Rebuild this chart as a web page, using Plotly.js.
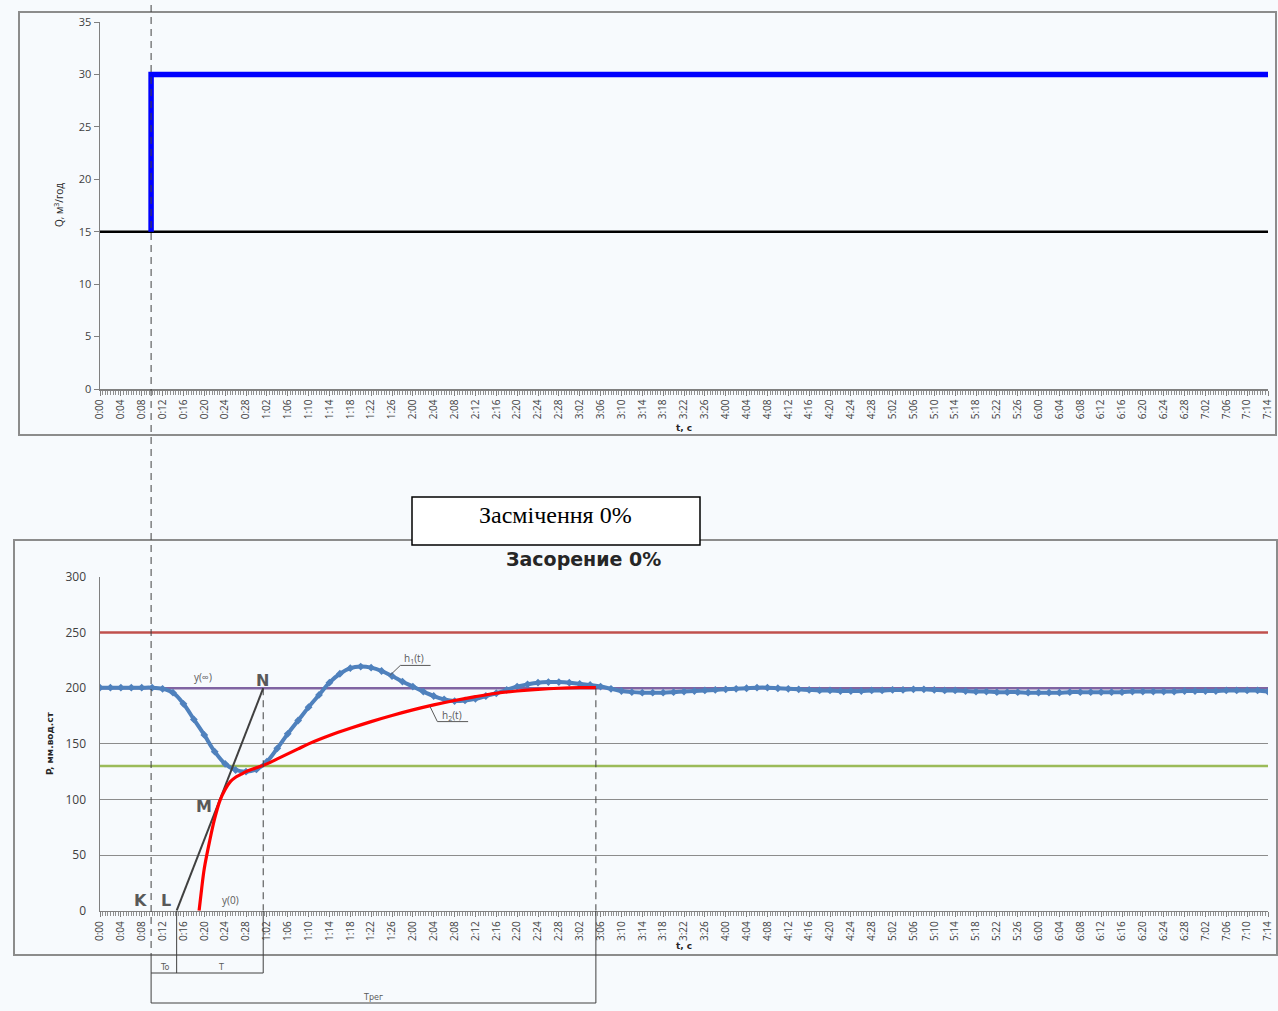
<!DOCTYPE html>
<html>
<head>
<meta charset="utf-8">
<script src="https://cdn.plot.ly/plotly-3.0.1.min.js"></script>
<style>
html,body{margin:0;padding:0;background:#f7fafd;}
#chart{width:1278px;height:1011px;}
</style>
</head>
<body>
<div id="chart"></div>
<script>
// ---- tick labels (time axis) ----
const tickLabels = ["0:00","0:04","0:08","0:12","0:16","0:20","0:24","0:28","1:02","1:06","1:10","1:14","1:18","1:22","1:26",
"2:00","2:04","2:08","2:12","2:16","2:20","2:24","2:28","3:02","3:06","3:10","3:14","3:18","3:22","3:26",
"4:00","4:04","4:08","4:12","4:16","4:20","4:24","4:28","5:02","5:06","5:10","5:14","5:18","5:22","5:26",
"6:00","6:04","6:08","6:12","6:16","6:20","6:24","6:28","7:02","7:06","7:10","7:14"];

// ---- top chart: flow Q ----
const qStepT = [9.8, 9.8, 224];
const qStepV = [15, 30, 30];
const qBaseT = [0, 224];
const qBaseV = [15, 15];

// ---- bottom chart: pressure P ----
const h1T = [0,2,4,6,8,10,12,14,16,18,20,22,24,26,28,30,32,34,36,38,40,42,44,46,48,50,52,54,56,58,60,62,64,66,68,70,72,74,76,78,80,82,84,86,88,90,92,94,96,98,100,102,104,106,108,110,112,114,116,118,120,122,124,126,128,130,132,134,136,138,140,142,144,146,148,150,152,154,156,158,160,162,164,166,168,170,172,174,176,178,180,182,184,186,188,190,192,194,196,198,200,202,204,206,208,210,212,214,216,218,220,222,224];
const h1P = [200.5,200.5,200.5,200.5,200.5,200.5,199.5,196,186,172,158,143,132,126.5,125,127,134,146,159,171,183,194,205,213,218,219.5,218.5,215.5,211,206,201.5,197,193,190,188.5,189,190.5,193,195.5,198.5,201.5,203.5,205,205.5,205.5,205,204,203,201.5,199.5,197.5,196.5,196,196,196,196.5,197,197.5,198,198.5,199,199.5,200,200.5,200.5,200,199.5,199,198.5,198,198,197.5,197.5,197.5,198,198,198.5,198.5,199,199,198.5,198,198,197.5,197,197,196.5,196.5,196.5,196,196,196,196,196.5,196.5,196.5,196.5,196.5,196.5,197,197,197,197,197,197.5,197.5,197.5,197.5,198,198,198,198,197];

const h2T = [19,19.5,20,21,22,23,24,25,26,27,28,30,32,34,36,38,40,44,48,52,56,60,64,68,72,76,80,84,88,92,95.1];
const h2P = [0,20,38,62,83,99,109,116,120,122.5,125,128.5,132,136.5,141,145.5,150,157.5,164,170,175.5,180.5,185,189,192.5,195.5,197.5,199,200,200.5,200.5];

const limitT = [0, 224];
const upperLimit = [250, 250];
const setPoint = [200, 200];
const lowerLimit = [130, 130];

const tangentT = [14.7, 31.3];
const tangentP = [0, 200];

// ---- layout helpers ----
const W = 1278, H = 1011;
const px = v => v / W;
const py = v => 1 - v / H;
const tickVals = tickLabels.map((_, i) => i * 4);
const gray = '#404040';
const tickFont = {family: 'Open Sans, DejaVu Sans, sans-serif', size: 10, color: gray};

const xCommon = {
  range: [0, 224], domain: [px(100), px(1268)], tickmode: 'array',
  tickvals: tickVals, ticktext: tickLabels, tickangle: -90, tickfont: tickFont,
  ticks: 'outside', ticklen: 5, tickcolor: '#808080', showline: true, linecolor: '#808080',
  linewidth: 1.5, showgrid: false, zeroline: false, fixedrange: true,
  minor: {ticks: 'outside', ticklen: 4, dtick: 0.5, tick0: 0, tickcolor: '#909090', showgrid: false}
};

const traces = [
  {x: qBaseT, y: qBaseV, xaxis: 'x', yaxis: 'y', mode: 'lines', line: {color: '#000000', width: 2.5}},
  {x: qStepT, y: qStepV, xaxis: 'x', yaxis: 'y', mode: 'lines', line: {color: '#0000ff', width: 5.5}},
  {x: limitT, y: upperLimit, xaxis: 'x2', yaxis: 'y2', mode: 'lines', line: {color: '#c0504d', width: 2.5}},
  {x: limitT, y: lowerLimit, xaxis: 'x2', yaxis: 'y2', mode: 'lines', line: {color: '#9bbb59', width: 2.5}},
  {x: limitT, y: setPoint, xaxis: 'x2', yaxis: 'y2', mode: 'lines', line: {color: '#8064a2', width: 2.5}},
  {x: h1T, y: h1P, xaxis: 'x2', yaxis: 'y2', mode: 'lines+markers', line: {color: '#4f81bd', width: 4, shape: 'spline'},
   marker: {symbol: 'diamond', size: 6, color: '#4f81bd'}},
  {x: tangentT, y: tangentP, xaxis: 'x2', yaxis: 'y2', mode: 'lines', line: {color: '#404040', width: 2}},
  {x: h2T, y: h2P, xaxis: 'x2', yaxis: 'y2', mode: 'lines', line: {color: '#ff0000', width: 3.2, shape: 'spline'}}
];

const dashStyle = {color: '#404040', width: 1, dash: '7px,5px'};
const solidStyle = {color: '#404040', width: 1};
const shapes = [
  // frames
  {type: 'rect', xref: 'paper', yref: 'paper', x0: px(19), x1: px(1276), y0: py(435), y1: py(12), line: {color: '#8c8c8c', width: 2}, layer: 'below'},
  {type: 'rect', xref: 'paper', yref: 'paper', x0: px(14), x1: px(1277), y0: py(955), y1: py(540), line: {color: '#8c8c8c', width: 2}, layer: 'below'},
  // vertical K line across both charts
  {type: 'line', xref: 'x2', yref: 'paper', x0: 9.8, x1: 9.8, y0: py(5), y1: py(955), line: dashStyle},
  {type: 'line', xref: 'x2', yref: 'paper', x0: 9.8, x1: 9.8, y0: py(955), y1: py(1003), line: solidStyle},
  // N vertical
  {type: 'line', xref: 'x2', yref: 'y2', x0: 31.3, x1: 31.3, y0: 200, y1: 0, line: dashStyle},
  {type: 'line', xref: 'x2', yref: 'paper', x0: 31.3, x1: 31.3, y0: py(911), y1: py(973), line: solidStyle},
  // settling vertical
  {type: 'line', xref: 'x2', yref: 'y2', x0: 95.1, x1: 95.1, y0: 200, y1: 0, line: dashStyle},
  {type: 'line', xref: 'x2', yref: 'paper', x0: 95.1, x1: 95.1, y0: py(911), y1: py(1003), line: solidStyle},
  // L vertical
  {type: 'line', xref: 'x2', yref: 'paper', x0: 14.7, x1: 14.7, y0: py(911), y1: py(973), line: solidStyle},
  // brackets
  {type: 'line', xref: 'x2', yref: 'paper', x0: 9.8, x1: 31.3, y0: py(973), y1: py(973), line: solidStyle},
  {type: 'line', xref: 'x2', yref: 'paper', x0: 9.8, x1: 95.1, y0: py(1003), y1: py(1003), line: solidStyle},
  // callout leaders
  {type: 'path', xref: 'x2', yref: 'y2', path: 'M 55.6 211.5 L 57.6 220.5 L 63.4 220.5', line: {color: '#595959', width: 1}},
  {type: 'path', xref: 'x2', yref: 'y2', path: 'M 63.3 183.5 L 64.7 170 L 70.6 170', line: {color: '#595959', width: 1}},
  // caption box
  {type: 'rect', xref: 'paper', yref: 'paper', x0: px(412), x1: px(700), y0: py(545), y1: py(497), line: {color: '#000000', width: 1.5}, fillcolor: '#ffffff', layer: 'above'}
];

const small = {family: 'Open Sans, DejaVu Sans, sans-serif', size: 10, color: '#595959'};
const big = {family: 'DejaVu Sans, sans-serif', size: 16, color: '#595959'};
const ann = (x, y, text, font, extra) => Object.assign({x, y, xref: 'x2', yref: 'y2', text, showarrow: false, font, xanchor: 'center', yanchor: 'middle'}, extra || {});
const pann = (x, y, text, font, extra) => Object.assign({x: px(x), y: py(y), xref: 'paper', yref: 'paper', text, showarrow: false, font, xanchor: 'center', yanchor: 'middle'}, extra || {});
const annotations = [
  pann(555, 515, 'Засмічення 0%', {family: 'Liberation Serif, Times New Roman, serif', size: 24, color: '#000'}),
  pann(583, 559, '<b>Засорение 0%</b>', {family: 'DejaVu Sans, Verdana, sans-serif', size: 19, color: '#262626'}),
  pann(684, 428, '<b>t, c</b>', {family: 'DejaVu Sans, sans-serif', size: 9, color: '#262626'}),
  pann(684, 946, '<b>t, c</b>', {family: 'DejaVu Sans, sans-serif', size: 9, color: '#262626'}),
  pann(59, 205, 'Q, м<sup>3</sup>/год', {family: 'Open Sans, sans-serif', size: 10, color: '#262626'}, {textangle: -90}),
  pann(50, 743, '<b>P, мм.вод.ст</b>', {family: 'DejaVu Sans, sans-serif', size: 9, color: '#262626'}, {textangle: -90}),
  ann(7.7, 9, '<b>K</b>', big), ann(12.7, 9, '<b>L</b>', big), ann(19.9, 94, '<b>M</b>', big), ann(31.1, 207, '<b>N</b>', big),
  ann(19.8, 210, 'y(∞)', small), ann(25.1, 10, 'y(0)', small),
  ann(60.3, 226.5, 'h<sub>1</sub>(t)', small), ann(67.6, 175.5, 'h<sub>2</sub>(t)', small),
  pann(165, 967, 'To', {family: 'DejaVu Sans, sans-serif', size: 8, color: '#595959'}),
  pann(221, 967, 'T', {family: 'DejaVu Sans, sans-serif', size: 8, color: '#595959'}),
  pann(373, 997, 'Tрег', {family: 'DejaVu Sans, sans-serif', size: 8, color: '#595959'})
];

const layout = {
  width: W, height: H, margin: {l: 0, r: 0, t: 0, b: 0},
  paper_bgcolor: '#f7fafd', plot_bgcolor: 'rgba(0,0,0,0)', showlegend: false,
  xaxis: Object.assign({}, xCommon, {anchor: 'y'}),
  xaxis2: Object.assign({}, xCommon, {anchor: 'y2'}),
  yaxis: {range: [0, 35], dtick: 5, domain: [py(389), py(22)], anchor: 'x', showgrid: false, zeroline: false,
    showline: true, linecolor: '#808080', linewidth: 1.5, ticks: 'outside', ticklen: 5, tickcolor: '#808080',
    tickfont: {family: 'Open Sans, DejaVu Sans, sans-serif', size: 11, color: '#404040'}, fixedrange: true},
  yaxis2: {range: [0, 300], dtick: 50, domain: [py(910.7), py(577)], anchor: 'x2', showgrid: true, gridcolor: '#8c8c8c',
    gridwidth: 1, zeroline: false, showline: true, linecolor: '#808080', linewidth: 1.5, ticks: '',
    ticklabelstandoff: 10,
    tickfont: {family: 'Open Sans, DejaVu Sans, sans-serif', size: 12, color: '#404040'}, fixedrange: true},
  shapes, annotations
};

Plotly.newPlot('chart', traces, layout, {staticPlot: true, displayModeBar: false});
</script>
</body>
</html>
